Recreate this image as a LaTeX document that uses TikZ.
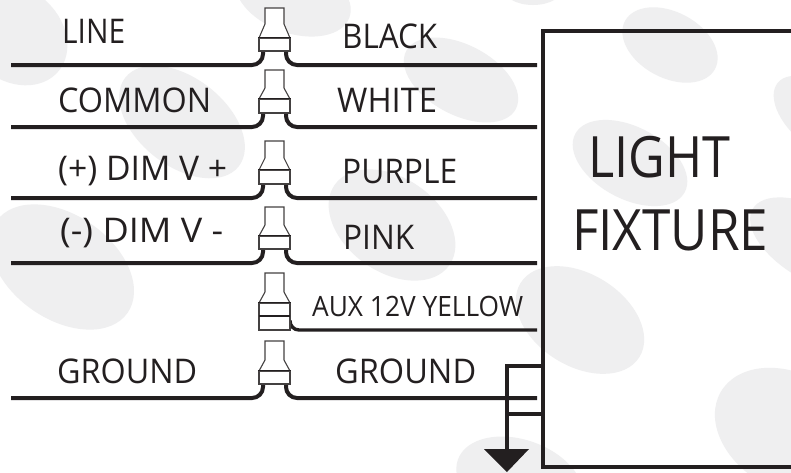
\documentclass[tikz,border=0pt]{standalone}
\usepackage{fontspec}
\usepackage{graphicx}
\setmainfont{Open Sans}
\definecolor{ink}{HTML}{231F20}
\definecolor{blobc}{HTML}{EFEFF0}
\tikzset{
  wire/.style={draw=ink,line width=4pt},
  nutline/.style={draw=ink!85,line width=1.1pt,line join=miter},
  nutbox/.style={nutline,rectangle,inner sep=0pt,minimum width=31pt,fill=white},
  lab/.style={anchor=base west,inner sep=0pt,text=ink},
  body/.style={draw=ink,line width=4pt},
}
% name, top, flare, boxtop, boxbottom, wire y
\newcommand{\nutcap}[5]{%
  \node[nutbox,minimum height=#5pt-#4pt] (#1) at (274.5,{(#4+#5)/2}) {};
  \draw[nutline,fill=white] (265,#3) -- (265,#2) -- (284,#2) -- (284,#3) -- (290,#4) -- (259,#4) -- cycle;
  \draw[draw=ink,line width=1.5pt] (#1.north west) -- (#1.north east);
}
\newcommand{\nutpair}[6]{%
  \coordinate (#1L) at (11,#6);
  \coordinate (#1R) at (537,#6);
  \coordinate (#1a) at (263,#5);
  \coordinate (#1b) at (286,#5);
  \draw[wire,rounded corners=11pt] (#1L) -| (#1a);
  \draw[wire,rounded corners=11pt] (#1R) -| (#1b);
  \nutcap{#1}{#2}{#3}{#4}{#5}
}
\newcommand{\blobat}[5]{\fill[blobc,shift={(#1,#2)},rotate=#5] (0,0) ellipse [x radius=#3pt,y radius=#4pt];}
% name, x, base y, width, size, text
\newcommand{\lbl}[6]{\node[lab] (#1) at (#2,#3) {\resizebox{#4pt}{\height}{\fontsize{#5pt}{#5pt}\selectfont #6}};}
\begin{document}
\begin{tikzpicture}[x=1pt,y=-1pt]
\clip (0,0) rectangle (791,472);
\fill[white] (0,0) rectangle (791,472);
\blobat{14}{34}{58}{46}{-40}
\blobat{182}{122}{72}{44}{-38}
\blobat{293}{-3}{60}{36}{-20}
\blobat{62}{267}{80}{52}{-35}
\blobat{461}{80}{62}{35}{-28}
\blobat{392}{225}{70}{47}{-35}
\blobat{670}{45}{51}{33}{-28}
\blobat{630}{163}{62}{36}{-28}
\blobat{820}{118}{55}{30}{-40}
\blobat{815}{245}{72}{36}{-30}
\blobat{580}{320}{70}{46}{-32}
\blobat{790}{432}{80}{58}{-30}
\blobat{520}{482}{66}{42}{-20}
\blobat{533}{-12}{30}{17}{0}

\nutpair{n1}{8}{24}{38}{51}{65}
\nutpair{n2}{70}{88}{99}{113}{127}
\nutpair{n3}{141}{158}{170}{184}{198}
\nutpair{n4}{207}{225}{236}{249}{263}
\nutpair{n6}{341}{360}{371}{384}{398}
\coordinate (n5R) at (537,330);
\coordinate (n5b) at (290,320);
\draw[draw=ink,line width=3.4pt,rounded corners=9pt] (n5R) -| (n5b);
\nutcap{n5}{273}{292}{303}{330}
\coordinate (n5ml) at (259,316);
\coordinate (n5mr) at (290,316);
\draw[draw=ink,line width=1.5pt] (n5ml) -- (n5mr);

\lbl{t1}{62}{43}{63}{34}{LINE}
\lbl{t2}{58}{112}{153}{34}{COMMON}
\lbl{t3}{58}{180}{169}{34}{(+) DIM V +}
\lbl{t4}{60}{242}{163}{34}{(-) DIM V -}
\lbl{t5}{57}{383}{140}{34}{GROUND}
\lbl{t6}{342}{48}{95}{34}{BLACK}
\lbl{t7}{337}{112}{100}{34}{WHITE}
\lbl{t8}{342}{183}{115}{34}{PURPLE}
\lbl{t9}{343}{249}{71}{34}{PINK}
\lbl{t10}{312}{316}{211}{28}{AUX 12V YELLOW}
\lbl{t11}{335}{383}{141}{34}{GROUND}
\lbl{t12}{588}{177}{142}{57}{LIGHT}
\lbl{t13}{572}{250}{196}{57}{FIXTURE}

\coordinate (fa) at (791,30.5);
\coordinate (fb) at (542.7,30.5);
\coordinate (fc) at (542.7,466.7);
\coordinate (fd) at (791,466.7);
\draw[body,line join=miter] (fa) -- (fb) -- (fc) -- (fd);

\coordinate (g1) at (543,366);
\coordinate (g2) at (507,366);
\coordinate (g3) at (507,450);
\coordinate (g4) at (543,414);
\coordinate (g5) at (505,414);
\draw[body,line join=miter] (g1) -- (g2) -- (g3);
\draw[draw=ink,line width=3.5pt] (g4) -- (g5);
\fill[ink] (484,449) -- (529,449) -- (507,472) -- cycle;
\end{tikzpicture}
\end{document}
